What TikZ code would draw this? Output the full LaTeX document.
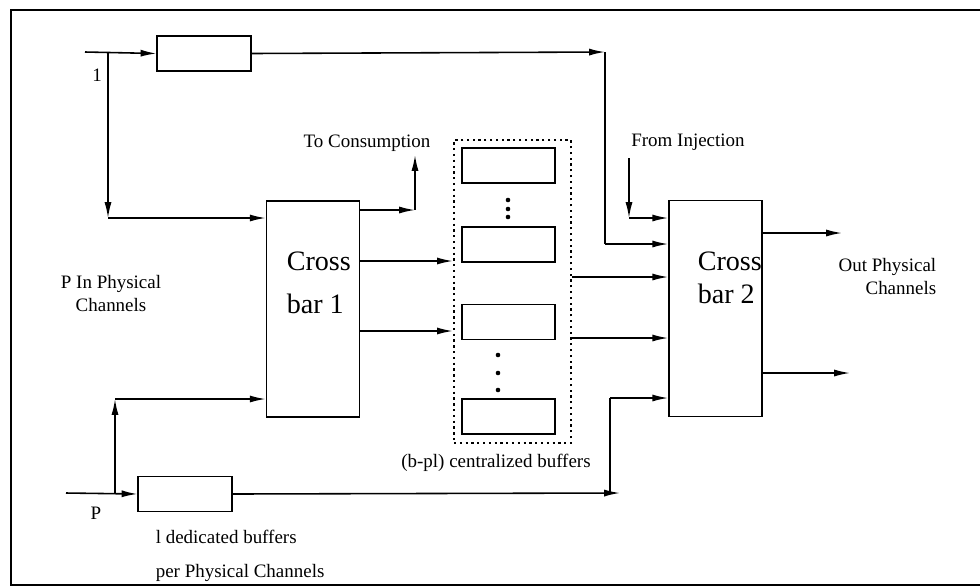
\documentclass[tikz,border=0pt]{standalone}
\usepackage{fontspec}
\setmainfont{Liberation Serif}
\usetikzlibrary{arrows.meta, positioning, calc}

\tikzset{
  buf/.style={draw, minimum width=1.87cm, minimum height=0.7cm, inner sep=0pt},
  xbar/.style={draw, minimum width=1.86cm, minimum height=4.32cm, inner sep=0pt},
  pool/.style={draw, dotted, line width=1.3pt, minimum width=2.34cm, minimum height=6.06cm, inner sep=0pt},
  lbl/.style={font=\fontsize{10.8}{13}\selectfont, inner sep=0pt},
  xtxt/.style={font=\fontsize{16}{24}\selectfont, inner sep=0pt, anchor=base west},
}

\begin{document}
\begin{tikzpicture}[x=0.02cm, y=-0.02cm, >={Latex[length=9pt,width=4pt]}, line width=0.9pt]
    \useasboundingbox (0,0) rectangle (980,586);
    % Khung ngoài
    \draw (980,10) -- (11,10) -- (11,585) -- (980,585);

    % Các bộ đệm riêng
    \node[buf] (buf1) at (204,53.5) {};
    \node[buf] (bufP) at (185,494) {};

    % Hai crossbar
    \node[xbar] (xbar1) at (313,309) {};
    \node[xbar] (xbar2) at (715.5,308.5) {};
    \node[xtxt] (xb1a) at (286,270) {Cross};
    \node[xtxt] (xb1b) at (286,313) {bar 1};
    \node[xtxt] (xb2a) at (697,270) {Cross};
    \node[xtxt] (xb2b) at (697,303) {bar 2};

    % Bộ đệm tập trung
    \node[pool] (pool) at (512.5,291.5) {};
    \node[buf] (cbuf1) at (508.5,165.5) {};
    \node[buf] (cbuf2) at (508.5,244.5) {};
    \node[buf] (cbuf3) at (508.5,322) {};
    \node[buf] (cbuf4) at (508.5,416.5) {};
    \foreach \y in {200,209,217} \fill (508,\y) circle (1.3pt);
    \foreach \y in {355,373,390} \fill (498,\y) circle (1.3pt);

    % Các điểm nối
    \coordinate (in1) at (85,52);
    \coordinate (j1) at (108,52);
    \coordinate (c1) at (108,218);
    \coordinate (t1) at (605,52);
    \coordinate (t2) at (605,244);
    \coordinate (inP) at (66,493);
    \coordinate (jP) at (115,493);
    \coordinate (cP) at (115,399);
    \coordinate (b1) at (620,493);
    \coordinate (b2) at (610,493);
    \coordinate (b3) at (610,398);
    \coordinate (cs1) at (415,210);
    \coordinate (cs2) at (415,155);
    \coordinate (inj1) at (629,158);
    \coordinate (inj2) at (629,218);
    \coordinate (out1) at (842,233);
    \coordinate (out2) at (850,373);

    % Kênh 1
    \draw[->] (in1) -- (buf1.west);
    \draw[->] (buf1.east) -- (t1);
    \draw (t1) -- (t2);
    \draw[->] (t2) -- (t2 -| xbar2.west);
    \draw[->] (j1) -- (c1);
    \draw[->] (c1) -- (c1 -| xbar1.west);

    % Kênh P
    \draw[->] (inP) -- (bufP.west);
    \draw[->] (bufP.east) -- (b1);
    \draw (b2) -- (b3);
    \draw[->] (b3) -- (b3 -| xbar2.west);
    \draw[->] (jP) -- (cP);
    \draw[->] (cP) -- (cP -| xbar1.west);

    % Crossbar 1 ra
    \draw[->] (xbar1.east |- cs1) -- (cs1);
    \draw[->] (cs1) -- (cs2);
    \draw[->] (xbar1.east |- 0,261) -- (pool.west |- 0,261);
    \draw[->] (xbar1.east |- 0,331) -- (pool.west |- 0,331);

    % Vào crossbar 2
    \draw[->] (pool.east |- 0,277) -- (xbar2.west |- 0,277);
    \draw[->] (pool.east |- 0,338) -- (xbar2.west |- 0,338);
    \draw[->] (inj1) -- (inj2);
    \draw[->] (inj2) -- (inj2 -| xbar2.west);

    % Crossbar 2 ra
    \draw[->] (xbar2.east |- out1) -- (out1);
    \draw[->] (xbar2.east |- out2) -- (out2);

    % Nhãn
    \node[lbl] (l1) at (97,75) {1};
    \node[lbl] (lP) at (96,513) {P};
    \node[lbl, anchor=base] (lcons) at (367,147) {To Consumption};
    \node[lbl, anchor=base] (linj) at (688,146) {From Injection};
    \node[lbl, align=center, anchor=base] (lin) at (111,311) {P In Physical\\Channels};
    \node[lbl, align=right, anchor=base east] (lout) at (937,294) {Out Physical\\Channels};
    \node[lbl, anchor=base] (lpool) at (496,467) {(b-pl) centralized buffers};
    \node[lbl, align=left, anchor=base west] (lded) at (155,577) {l dedicated buffers\\[6pt]per Physical Channels};
\end{tikzpicture}
\end{document}
